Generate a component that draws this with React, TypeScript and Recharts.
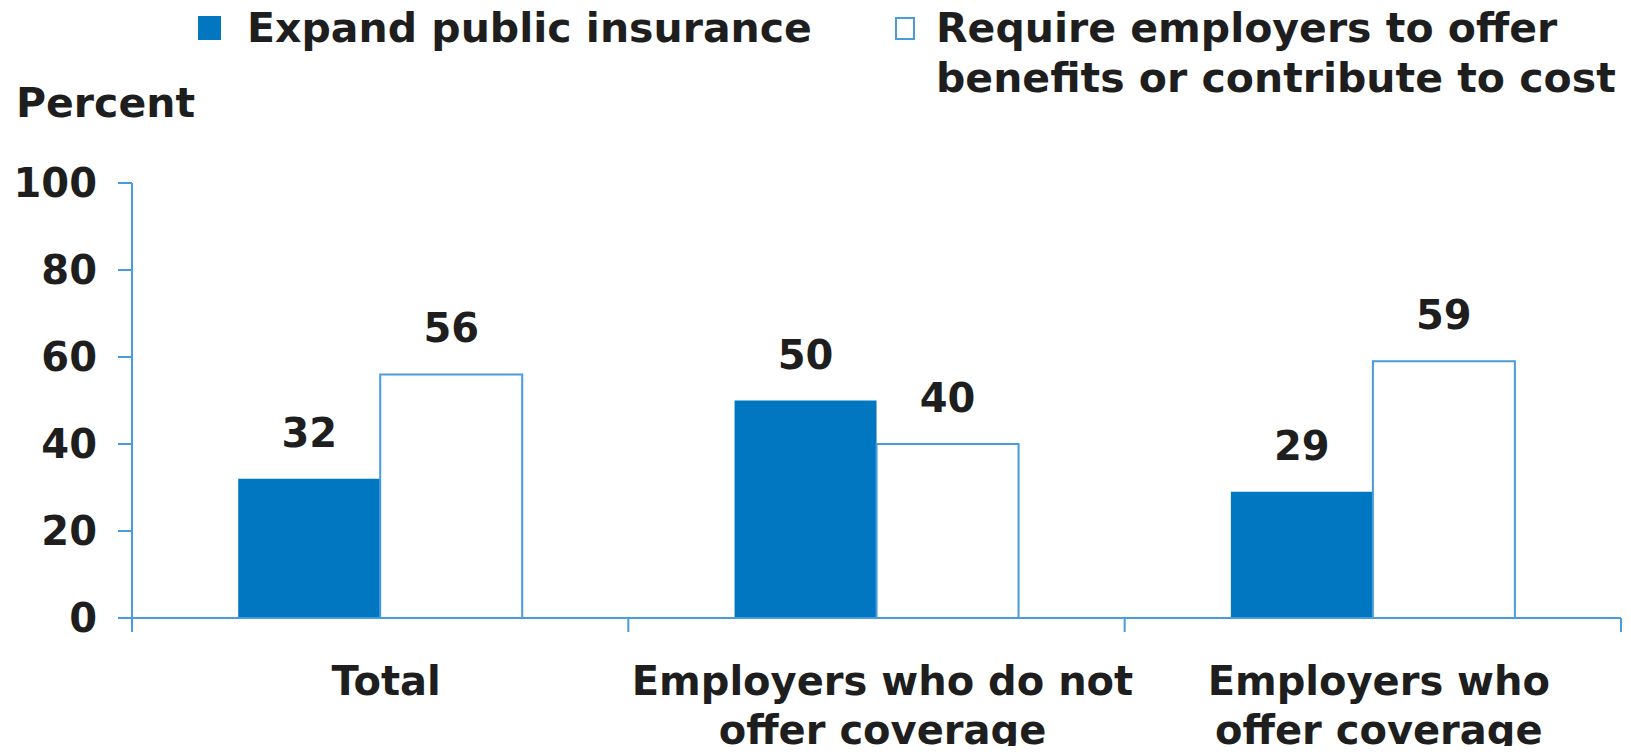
import React from 'react'
import { BarChart, Bar, XAxis, YAxis, LabelList } from 'recharts'

const categories = ['Total', 'Employers who do not offer coverage', 'Employers who offer coverage']
const categoryLines = [['Total'], ['Employers who do not', 'offer coverage'], ['Employers who', 'offer coverage']]
const expandPublic = [32, 50, 29]
const requireEmployers = [56, 40, 59]
const yTicks = [0, 20, 40, 60, 80, 100]
// category boundaries (whole numbers) and category centres (halves) on a 0..3 scale
const xTicks = [0, 0.5, 1, 1.5, 2, 2.5, 3]

const data = categories.map((category, i) => ({
  category,
  idx: i,
  expand: expandPublic[i],
  require: requireEmployers[i],
}))

const FONT = '"DejaVu Sans", sans-serif'
const TEXT = '#1e1e1e'
const BLUE = '#0077c0'
const AXIS = '#4a9bd9'

const EdgeTick = ({ x, y, payload }: any) => {
  const v = payload.value
  if (Number.isInteger(v)) {
    return <line x1={x} y1={y} x2={x} y2={y + 14} stroke={AXIS} strokeWidth={2} />
  }
  const lines = categoryLines[Math.floor(v)] || []
  return (
    <text x={x} y={y} textAnchor="middle" fill={TEXT} fontFamily={FONT} fontWeight="bold" fontSize={40}>
      {lines.map((line, k) => (
        <tspan key={k} x={x + 6} y={y + 77 + k * 49}>{line}</tspan>
      ))}
    </text>
  )
}

const legendText: React.CSSProperties = {
  position: 'absolute',
  fontFamily: FONT,
  fontWeight: 'bold',
  fontSize: 41,
  lineHeight: '50px',
  color: TEXT,
  whiteSpace: 'nowrap',
}

const App = () => {
  return (
    <div style={{ position: 'relative', width: 1631, height: 754, margin: -8 }}>
      <div style={{ position: 'absolute', left: 198, top: 16, width: 23, height: 24, background: BLUE }} />
      <div style={{ ...legendText, left: 247, top: 3 }}>Expand public insurance</div>
      <div style={{ position: 'absolute', left: 895, top: 17, width: 16, height: 19, border: `2px solid ${AXIS}`, background: '#fff' }} />
      <div style={{ ...legendText, left: 936, top: 3 }}>
        Require employers to offer
        <br />
        benefits or contribute to cost
      </div>
      <div style={{ ...legendText, left: 16, top: 78 }}>Percent</div>

      <BarChart
        width={1631}
        height={754}
        data={data}
        margin={{ top: 183, right: 10, left: 0, bottom: 6 }}
        barCategoryGap="21.4%"
        barGap={0}
      >
        <XAxis xAxisId="cat" dataKey="category" hide height={0} />
        <XAxis
          xAxisId="edge"
          type="number"
          dataKey="idx"
          domain={[0, 3]}
          ticks={xTicks}
          allowDataOverflow
          interval={0}
          axisLine={{ stroke: AXIS, strokeWidth: 2 }}
          tickLine={false}
          tickSize={0}
          tickMargin={0}
          tick={<EdgeTick />}
          height={130}
        />
        <YAxis
          domain={[0, 100]}
          ticks={yTicks}
          width={132}
          axisLine={{ stroke: AXIS, strokeWidth: 2 }}
          tickLine={{ stroke: AXIS, strokeWidth: 2 }}
          tickSize={14}
          tickMargin={21}
          tick={{ fill: TEXT, fontFamily: FONT, fontWeight: 'bold', fontSize: 40 }}
        />
        <Bar xAxisId="cat" dataKey="expand" fill={BLUE} isAnimationActive={false}>
          <LabelList dataKey="expand" position="top" offset={32} fill={TEXT} fontFamily={FONT} fontWeight="bold" fontSize={40} />
        </Bar>
        <Bar xAxisId="cat" dataKey="require" fill="#ffffff" stroke={AXIS} strokeWidth={2} isAnimationActive={false}>
          <LabelList dataKey="require" position="top" offset={32} fill={TEXT} fontFamily={FONT} fontWeight="bold" fontSize={40} />
        </Bar>
      </BarChart>
    </div>
  )
}

export default App
